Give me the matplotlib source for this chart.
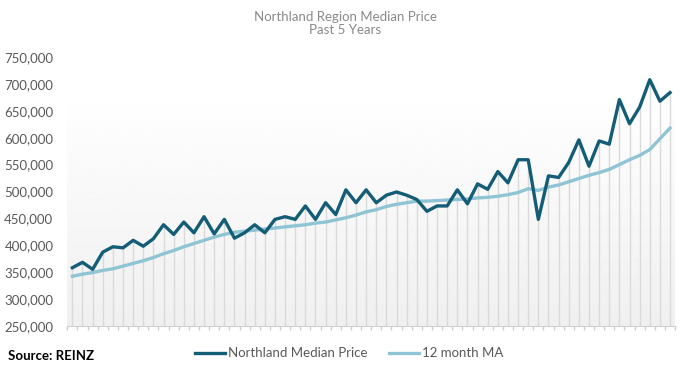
import numpy as np
import matplotlib
matplotlib.use("Agg")
import matplotlib.pyplot as plt
from matplotlib.ticker import FuncFormatter

# monthly values, oldest first
median_price = [358000, 368000, 355000, 387000, 397000, 395000, 409000, 398000, 412000, 438000,
                420000, 443000, 423000, 453000, 421000, 448000, 413000, 423000, 438000, 423000,
                448000, 453000, 448000, 473000, 448000, 479000, 457000, 503000, 479000, 503000,
                479000, 493000, 499000, 493000, 485000, 463000, 473000, 473000, 503000, 477000,
                514000, 504000, 537000, 516000, 559000, 559000, 448000, 529000, 526000, 554000,
                596000, 547000, 594000, 588000, 671000, 626000, 657000, 708000, 668000, 684000]
ma_12 = [342000, 346000, 349000, 353000, 356000, 361000, 366000, 371000, 377000, 384000,
         390000, 397000, 403000, 409000, 415000, 420000, 424000, 426000, 428000, 430000,
         432000, 434000, 436000, 438000, 441000, 443000, 447000, 451000, 456000, 462000,
         466000, 472000, 476000, 479000, 482000, 482000, 483000, 484000, 485000, 486000,
         488000, 489000, 491000, 494000, 498000, 505000, 502000, 508000, 512000, 518000,
         524000, 530000, 535000, 541000, 550000, 559000, 567000, 578000, 598000, 618000]
labels = ["Northland Median Price", "12 month MA"]

dark = "#145d76"
light = "#8fc4d4"
grey_txt = "#595959"

plt.rcParams["font.family"] = ["Lato", "DejaVu Sans"]

fig = plt.figure(figsize=(6.91, 3.71), dpi=100)
ax = fig.add_axes([0.0974, 0.122, 0.8796, 0.724])

x = np.arange(len(median_price))

# gradient plot-area background
grad = np.linspace(0.94, 1.0, 256).reshape(-1, 1)
ax.imshow(grad, cmap="gray", vmin=0, vmax=1, aspect="auto", origin="lower",
          extent=[-0.5, len(x) - 0.5, 250000, 690000], zorder=0)

# drop lines from each monthly point
ax.vlines(x, 250000, median_price, color="#dadada", lw=1, zorder=1)

ax.plot(x, ma_12, color=light, lw=2.4, label=labels[1], zorder=2)
ax.plot(x, median_price, color=dark, lw=2.4, label=labels[0], zorder=3)

ax.set_xlim(-0.5, len(x) - 0.5)
ax.set_ylim(250000, 750000)
ax.set_yticks(np.arange(250000, 750001, 50000))
ax.yaxis.set_major_formatter(FuncFormatter(lambda v, p: f"{int(v):,}"))
ax.set_xticks(np.arange(-0.5, len(x), 1))
ax.set_xticklabels([])
ax.tick_params(axis="x", length=3, color="#d0d0d0", width=1)
ax.tick_params(axis="y", length=0, labelsize=9.5, labelcolor=grey_txt, pad=10)
for s in ["top", "right", "left"]:
    ax.spines[s].set_visible(False)
ax.spines["bottom"].set_color("#d0d0d0")

fig.text(0.5, 0.937, "Northland Region Median Price\nPast 5 Years", ha="center", va="center",
         fontsize=9.5, color="#8a8a8a", linespacing=1.05)
fig.text(0.012, 0.04, "Source: REINZ", ha="left", va="center", fontsize=9.5,
         fontweight="bold", color="black")

h, l = ax.get_legend_handles_labels()
fig.legend(h[::-1], l[::-1], loc="center", bbox_to_anchor=(0.505, 0.048), ncol=2,
           frameon=False, fontsize=9.5, handlelength=2.3, handletextpad=0.2,
           columnspacing=1.6, labelcolor=grey_txt)

fig.savefig("out.png", dpi=100)
